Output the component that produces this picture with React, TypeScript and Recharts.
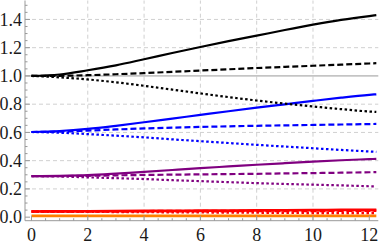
import React from 'react';
import { LineChart, Line, XAxis, YAxis, ReferenceLine } from 'recharts';

const xValues = [0, 1, 2, 3, 4, 5, 6, 7, 8, 9, 10, 11, 12, 12.25];

const blackSolid = [1.0, 1.01, 1.04, 1.075, 1.118, 1.162, 1.205, 1.246, 1.285, 1.325, 1.363, 1.397, 1.424, 1.43];
const blackDashed = [1.0, 1.001, 1.005, 1.012, 1.02, 1.029, 1.038, 1.047, 1.056, 1.064, 1.072, 1.08, 1.088, 1.09];
const blackDotted = [1.0, 0.99, 0.975, 0.955, 0.93, 0.903, 0.876, 0.85, 0.826, 0.804, 0.784, 0.765, 0.748, 0.745];
const blueSolid = [0.603, 0.61, 0.625, 0.647, 0.672, 0.698, 0.724, 0.75, 0.775, 0.799, 0.823, 0.846, 0.866, 0.87];
const blueDashed = [0.603, 0.606, 0.613, 0.621, 0.628, 0.634, 0.639, 0.643, 0.647, 0.65, 0.653, 0.656, 0.659, 0.66];
const blueDotted = [0.603, 0.598, 0.588, 0.577, 0.565, 0.551, 0.538, 0.525, 0.512, 0.5, 0.488, 0.476, 0.465, 0.462];
const purpleSolid = [0.29, 0.292, 0.297, 0.308, 0.321, 0.334, 0.347, 0.359, 0.371, 0.382, 0.393, 0.403, 0.411, 0.413];
const purpleDashed = [0.29, 0.291, 0.293, 0.296, 0.299, 0.301, 0.303, 0.305, 0.307, 0.31, 0.312, 0.315, 0.318, 0.319];
const purpleDotted = [0.29, 0.288, 0.282, 0.276, 0.27, 0.262, 0.255, 0.248, 0.241, 0.235, 0.23, 0.225, 0.219, 0.218];
const redSolid = [0.04, 0.041, 0.042, 0.043, 0.044, 0.045, 0.046, 0.047, 0.048, 0.049, 0.05, 0.051, 0.052, 0.052];
const redDashed = [0.04, 0.0405, 0.041, 0.0415, 0.042, 0.0425, 0.043, 0.0435, 0.044, 0.0445, 0.045, 0.0455, 0.046, 0.046];
const redDotted = [0.04, 0.0395, 0.039, 0.038, 0.037, 0.036, 0.035, 0.034, 0.033, 0.032, 0.031, 0.031, 0.03, 0.03];
const orangeLine = [0.009, 0.009, 0.009, 0.009, 0.009, 0.009, 0.009, 0.009, 0.009, 0.009, 0.009, 0.009, 0.009, 0.009];

const xMajorTicks = [0, 2, 4, 6, 8, 10, 12];
const xMinorTicks = [0, 0.5, 1, 1.5, 2, 2.5, 3, 3.5, 4, 4.5, 5, 5.5, 6, 6.5, 7, 7.5, 8, 8.5, 9, 9.5, 10, 10.5, 11, 11.5, 12];
const yMajorTicks = [0, 0.2, 0.4, 0.6, 0.8, 1.0, 1.2, 1.4];
const yMinorTicks = [0, 0.05, 0.1, 0.15, 0.2, 0.25, 0.3, 0.35, 0.4, 0.45, 0.5, 0.55, 0.6, 0.65, 0.7, 0.75, 0.8, 0.85, 0.9, 0.95, 1.0, 1.05, 1.1, 1.15, 1.2, 1.25, 1.3, 1.35, 1.4, 1.45, 1.5];
const xGrid = [2, 4, 6, 8, 10];
const yGrid = [0.2, 0.4, 0.6, 0.8, 1.2, 1.4];

const X_DOMAIN: [number, number] = [-0.23, 12.32];
const Y_DOMAIN: [number, number] = [-0.025, 1.534];

const data = xValues.map((x, i) => ({
  x,
  bs: blackSolid[i],
  bd: blackDashed[i],
  bt: blackDotted[i],
  us: blueSolid[i],
  ud: blueDashed[i],
  ut: blueDotted[i],
  ps: purpleSolid[i],
  pd: purpleDashed[i],
  pt: purpleDotted[i],
  rs: redSolid[i],
  rd: redDashed[i],
  rt: redDotted[i],
  o: orangeLine[i],
}));

const FRAME = '#999';
const GRID = '#d0d0d0';
const LABEL_FONT = 'Liberation Serif';
const LABEL_SIZE = 18;
const LABEL_COLOR = '#1a1a1a';
const X_MARGIN = 8;
const Y_MARGIN = 3;
const MAJOR_LEN = 5;
const MINOR_LEN = 2.5;

const isMajorX = (v: number) => xMajorTicks.some((m) => Math.abs(m - v) < 1e-6);
const isMajorY = (v: number) => yMajorTicks.some((m) => Math.abs(m - v) < 1e-6);

const BottomTick = (props: any) => {
  const v = Number(props.payload.value);
  const major = isMajorX(v);
  const axisY = props.y - X_MARGIN;
  return (
    <g>
      <line x1={props.x} x2={props.x} y1={axisY} y2={axisY - (major ? MAJOR_LEN : MINOR_LEN)} stroke={FRAME} />
      {major && (
        <text x={props.x} y={props.y} dy="0.71em" textAnchor="middle" fontFamily={LABEL_FONT} fontSize={LABEL_SIZE} fill={LABEL_COLOR}>
          {String(v)}
        </text>
      )}
    </g>
  );
};

const LeftTick = (props: any) => {
  const v = Number(props.payload.value);
  const major = isMajorY(v);
  const axisX = props.x + Y_MARGIN;
  return (
    <g>
      <line x1={axisX} x2={axisX + (major ? MAJOR_LEN : MINOR_LEN)} y1={props.y} y2={props.y} stroke={FRAME} />
      {major && (
        <text x={props.x} y={props.y} dy="0.34em" textAnchor="end" fontFamily={LABEL_FONT} fontSize={LABEL_SIZE} fill={LABEL_COLOR}>
          {v.toFixed(1)}
        </text>
      )}
    </g>
  );
};

const TopTick = (props: any) => {
  const v = Number(props.payload.value);
  const len = isMajorX(v) ? MAJOR_LEN : MINOR_LEN;
  return <line x1={props.x} x2={props.x} y1={props.y} y2={props.y + len} stroke={FRAME} />;
};

const RightTick = (props: any) => {
  const v = Number(props.payload.value);
  const len = isMajorY(v) ? MAJOR_LEN : MINOR_LEN;
  return <line x1={props.x} x2={props.x - len} y1={props.y} y2={props.y} stroke={FRAME} />;
};

const series = [
  { key: 'o', color: '#ff8000', dash: undefined, w: 2.7 },
  { key: 'rt', color: '#ff0000', dash: '2.5 2.5', w: 2.7 },
  { key: 'rd', color: '#ff0000', dash: '6 3', w: 2.7 },
  { key: 'rs', color: '#ff0000', dash: undefined, w: 2.7 },
  { key: 'pt', color: '#800080', dash: '2.5 2.5', w: 2.2 },
  { key: 'pd', color: '#800080', dash: '6 3', w: 2.2 },
  { key: 'ps', color: '#800080', dash: undefined, w: 2.2 },
  { key: 'ut', color: '#0000ff', dash: '2.5 2.5', w: 2.2 },
  { key: 'ud', color: '#0000ff', dash: '6 3', w: 2.2 },
  { key: 'us', color: '#0000ff', dash: undefined, w: 2.2 },
  { key: 'bs', color: '#000000', dash: undefined, w: 2.2 },
  { key: 'bd', color: '#000000', dash: '6 3', w: 2.2 },
  { key: 'bt', color: '#000000', dash: '2.5 2.5', w: 2.2 },
];

export default function App() {
  return (
    <div style={{ position: 'absolute', left: 0, top: 0 }}>
      <LineChart width={382} height={244} data={data} margin={{ top: 0.5, right: 3.7, bottom: 0, left: 0 }}>
        <XAxis xAxisId="x" dataKey="x" type="number" domain={X_DOMAIN} allowDataOverflow orientation="bottom" height={23.3} ticks={xMinorTicks} interval={0} tickLine={false} tickSize={0} tickMargin={X_MARGIN} axisLine={{ stroke: FRAME }} tick={BottomTick} />
        <YAxis yAxisId="y" type="number" domain={Y_DOMAIN} allowDataOverflow orientation="left" width={25} ticks={yMinorTicks} interval={0} tickLine={false} tickSize={0} tickMargin={Y_MARGIN} axisLine={{ stroke: FRAME }} tick={LeftTick} />
        <XAxis xAxisId="top" dataKey="x" type="number" domain={X_DOMAIN} allowDataOverflow orientation="top" height={0} ticks={xMinorTicks} interval={0} tickLine={false} tickSize={0} tickMargin={0} axisLine={{ stroke: FRAME }} tick={TopTick} />
        <YAxis yAxisId="right" type="number" domain={Y_DOMAIN} allowDataOverflow orientation="right" width={0} ticks={yMinorTicks} interval={0} tickLine={false} tickSize={0} tickMargin={0} axisLine={{ stroke: FRAME }} tick={RightTick} />

        {xGrid.map((v) => (
          <ReferenceLine key={'gx' + v} xAxisId="x" yAxisId="y" x={v} stroke={GRID} strokeDasharray="4 3" />
        ))}
        {yGrid.map((v) => (
          <ReferenceLine key={'gy' + v} xAxisId="x" yAxisId="y" y={v} stroke={GRID} strokeDasharray="4 3" />
        ))}
        <ReferenceLine xAxisId="x" yAxisId="y" y={1} stroke={FRAME} />

        {series.map((s) => (
          <Line
            key={s.key}
            xAxisId="x"
            yAxisId="y"
            dataKey={s.key}
            type="monotone"
            stroke={s.color}
            strokeWidth={s.w}
            strokeDasharray={s.dash}
            dot={false}
            activeDot={false}
            isAnimationActive={false}
          />
        ))}
      </LineChart>
    </div>
  );
}
